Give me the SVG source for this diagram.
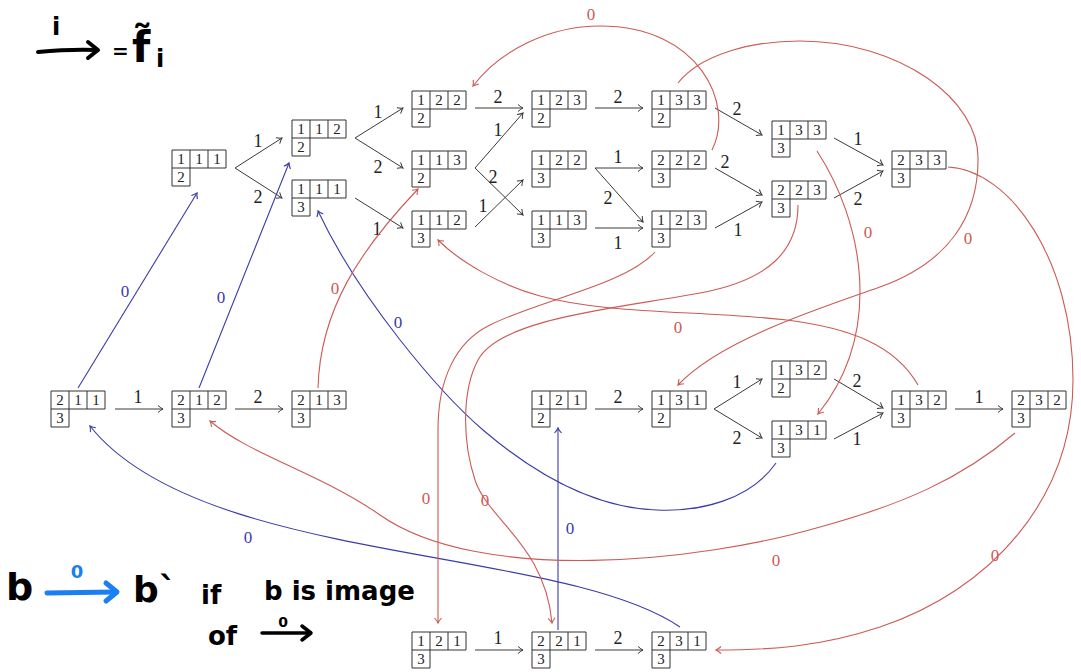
<svg xmlns="http://www.w3.org/2000/svg" xmlns:xlink="http://www.w3.org/1999/xlink" width="1081" height="672" viewBox="0 0 1081 672">
<style>
.t text{font-family:"Liberation Serif","DejaVu Serif",serif;font-size:15px;text-anchor:middle;fill:#222}
.e{fill:none;stroke:#3a3a3a;stroke-width:1}
.r{fill:none;stroke:#cc5a55;stroke-width:1.1}
.bl{fill:none;stroke:#3b3ba8;stroke-width:1.1}
.lb{font-family:"Liberation Serif","DejaVu Serif",serif;font-size:18px;text-anchor:middle;fill:#222}
.lr{font-family:"Liberation Serif","DejaVu Serif",serif;font-size:17px;text-anchor:middle;fill:#cc5a55}
.lbl{font-family:"Liberation Serif","DejaVu Serif",serif;font-size:17px;text-anchor:middle;fill:#3b3ba8}
.hw{font-family:"DejaVu Sans",sans-serif;font-weight:bold;fill:#000}
</style>
<defs>
<marker id="ak" viewBox="-6 -5 8 10" markerWidth="8" markerHeight="10" refX="0" refY="0" orient="auto" markerUnits="userSpaceOnUse"><path d="M-5,-3.5 Q-2,-0.8 0,0 Q-2,0.8 -5,3.5" fill="none" stroke="#3a3a3a" stroke-width="1"/></marker>
<marker id="ar" viewBox="-6 -5 8 10" markerWidth="8" markerHeight="10" refX="0" refY="0" orient="auto" markerUnits="userSpaceOnUse"><path d="M-5,-3.5 Q-2,-0.8 0,0 Q-2,0.8 -5,3.5" fill="none" stroke="#cc5a55" stroke-width="1.1"/></marker>
<marker id="ab" viewBox="-6 -5 8 10" markerWidth="8" markerHeight="10" refX="0" refY="0" orient="auto" markerUnits="userSpaceOnUse"><path d="M-5,-3.5 Q-2,-0.8 0,0 Q-2,0.8 -5,3.5" fill="none" stroke="#3b3ba8" stroke-width="1.1"/></marker>
<path id="sh" d="M0,0 H54 V18 H0 Z M18,0 V36 H0 V18 M36,0 V18" fill="none" stroke="#333" stroke-width="1"/>
</defs>
<rect width="1081" height="672" fill="#fff"/>

<g id="handwriting">
<text class="hw" x="52" y="35" font-size="24">i</text>
<path d="M38,52 Q70,49 97,50" fill="none" stroke="#000" stroke-width="4" stroke-linecap="round"/>
<path d="M88,42 L98,50 L88,58" fill="none" stroke="#000" stroke-width="4" stroke-linecap="round" stroke-linejoin="round"/>
<text class="hw" x="112" y="58" font-size="20">=</text>
<text class="hw" x="132" y="62" font-size="42">f̃</text>
<text class="hw" x="156" y="67" font-size="24">i</text>
<text class="hw" x="6" y="600" font-size="38">b</text>
<path d="M47,593 L116,592" fill="none" stroke="#1a7ff0" stroke-width="5" stroke-linecap="round"/>
<path d="M106,583 L117,592 L106,601" fill="none" stroke="#1a7ff0" stroke-width="5" stroke-linecap="round" stroke-linejoin="round"/>
<text class="hw" x="77" y="578" font-size="18" style="fill:#1a7ff0" text-anchor="middle">0</text>
<text class="hw" x="133" y="602" font-size="36">b`</text>
<text class="hw" x="201" y="604" font-size="26">if</text>
<text class="hw" x="264" y="600" font-size="26">b is image</text>
<text class="hw" x="208" y="645" font-size="26">of</text>
<path d="M262,633 L310,633" fill="none" stroke="#000" stroke-width="3.5" stroke-linecap="round"/>
<path d="M302,626 L311,633 L302,640" fill="none" stroke="#000" stroke-width="3.5" stroke-linecap="round" stroke-linejoin="round"/>
<text class="hw" x="283" y="627" font-size="14" text-anchor="middle">0</text>
</g>

<g id="connectors">
<g id="black-edges">
<path class="e" marker-end="url(#ak)" d="M235,168 L282,138"/>
<path class="e" marker-end="url(#ak)" d="M235,168 L282,198"/>
<path class="e" marker-end="url(#ak)" d="M355,138 L403,108"/>
<path class="e" marker-end="url(#ak)" d="M355,138 L403,168"/>
<path class="e" marker-end="url(#ak)" d="M355,198 L403,228"/>
<path class="e" marker-end="url(#ak)" d="M475,108 L523,108"/>
<path class="e" marker-end="url(#ak)" d="M475,168 L523,113"/>
<path class="e" marker-end="url(#ak)" d="M475,168 L523,215"/>
<path class="e" marker-end="url(#ak)" d="M475,227 L523,180"/>
<path class="e" marker-end="url(#ak)" d="M595,108 L643,108"/>
<path class="e" marker-end="url(#ak)" d="M595,168 L643,168"/>
<path class="e" marker-end="url(#ak)" d="M595,168 L643,222"/>
<path class="e" marker-end="url(#ak)" d="M595,228 L643,228"/>
<path class="e" marker-end="url(#ak)" d="M715,108 L762,135"/>
<path class="e" marker-end="url(#ak)" d="M715,168 L762,195"/>
<path class="e" marker-end="url(#ak)" d="M715,228 L762,202"/>
<path class="e" marker-end="url(#ak)" d="M834,138 L883,165"/>
<path class="e" marker-end="url(#ak)" d="M834,198 L883,171"/>
<path class="e" marker-end="url(#ak)" d="M115,409 L163,409"/>
<path class="e" marker-end="url(#ak)" d="M235,409 L283,409"/>
<path class="e" marker-end="url(#ak)" d="M595,409 L643,409"/>
<path class="e" marker-end="url(#ak)" d="M714,409 L762,379"/>
<path class="e" marker-end="url(#ak)" d="M714,409 L762,438"/>
<path class="e" marker-end="url(#ak)" d="M834,379 L883,408"/>
<path class="e" marker-end="url(#ak)" d="M834,439 L883,413"/>
<path class="e" marker-end="url(#ak)" d="M955,409 L1003,409"/>
<path class="e" marker-end="url(#ak)" d="M475,650 L523,650"/>
<path class="e" marker-end="url(#ak)" d="M595,650 L643,650"/>
</g>
<g id="black-labels">
<text class="lb" x="258" y="147">1</text>
<text class="lb" x="258" y="203">2</text>
<text class="lb" x="378" y="118">1</text>
<text class="lb" x="378" y="173">2</text>
<text class="lb" x="377" y="235">1</text>
<text class="lb" x="498" y="103">2</text>
<text class="lb" x="493" y="183">2</text>
<text class="lb" x="498" y="136">1</text>
<text class="lb" x="483" y="212">1</text>
<text class="lb" x="618" y="103">2</text>
<text class="lb" x="618" y="163">1</text>
<text class="lb" x="608" y="204">2</text>
<text class="lb" x="618" y="249">1</text>
<text class="lb" x="737" y="115">2</text>
<text class="lb" x="725" y="168">2</text>
<text class="lb" x="738" y="236">1</text>
<text class="lb" x="858" y="145">1</text>
<text class="lb" x="858" y="205">2</text>
<text class="lb" x="138" y="403">1</text>
<text class="lb" x="258" y="403">2</text>
<text class="lb" x="618" y="403">2</text>
<text class="lb" x="737" y="388">1</text>
<text class="lb" x="737" y="444">2</text>
<text class="lb" x="857" y="387">2</text>
<text class="lb" x="857" y="445">1</text>
<text class="lb" x="979" y="403">1</text>
<text class="lb" x="498" y="644">1</text>
<text class="lb" x="618" y="644">2</text>
</g>
<g id="blue-edges">
<path class="bl" marker-end="url(#ab)" d="M78,388 L197,193"/>
<path class="bl" marker-end="url(#ab)" d="M199,388 L289,163"/>
<path class="bl" marker-end="url(#ab)" d="M776,463 C750,500 700,512 657,510 C590,508 530,470 483,430 C440,393 360,300 318,211"/>
<path class="bl" marker-end="url(#ab)" d="M680,627 C560,545 200,565 90,426"/>
<path class="bl" marker-end="url(#ab)" d="M558,630 L558,428"/>
<text class="lbl" x="125" y="297">0</text>
<text class="lbl" x="221" y="303">0</text>
<text class="lbl" x="398" y="328">0</text>
<text class="lbl" x="248" y="543">0</text>
<text class="lbl" x="570" y="534">0</text>
</g>
<g id="red-edges">
<path class="r" marker-end="url(#ar)" d="M712,150 C735,105 700,26 600,26 C550,26 500,50 473,86"/>
<path class="r" marker-end="url(#ar)" d="M678,83 C700,55 750,41 800,41 C900,41 980,100 978,160 C978,215 950,262 880,287 C820,308 720,340 678,385"/>
<path class="r" marker-end="url(#ar)" d="M817,151 C862,220 885,330 818,414"/>
<path class="r" marker-end="url(#ar)" d="M948,167 C1010,170 1073,260 1073,380 C1073,500 990,590 880,627 C820,647 770,650 716,650"/>
<path class="r" marker-end="url(#ar)" d="M918,385 C895,345 850,328 787,320 C700,310 610,315 540,296 C500,285 460,262 438,240"/>
<path class="r" marker-end="url(#ar)" d="M798,205 C798,250 770,280 700,293 C620,308 500,318 478,360 C462,390 462,440 475,480 C488,520 545,545 552,623"/>
<path class="r" marker-end="url(#ar)" d="M655,252 C625,285 540,300 490,325 C455,342 438,380 438,430 L438,623"/>
<path class="r" marker-end="url(#ar)" d="M318,388 C320,310 360,250 418,189"/>
<path class="r" marker-end="url(#ar)" d="M1015,433 C960,480 900,505 820,527 C700,562 480,585 380,515 C320,473 250,455 210,421"/>
<text class="lr" x="591" y="20">0</text>
<text class="lr" x="968" y="244">0</text>
<text class="lr" x="868" y="238">0</text>
<text class="lr" x="995" y="561">0</text>
<text class="lr" x="678" y="333">0</text>
<text class="lr" x="485" y="506">0</text>
<text class="lr" x="426" y="504">0</text>
<text class="lr" x="335" y="294">0</text>
<text class="lr" x="776" y="566">0</text>
</g>
</g>

<g class="t">
<g id="n111-2" transform="translate(172,150)"><use href="#sh"/><text x="9" y="14">1</text><text x="27" y="14">1</text><text x="45" y="14">1</text><text x="9" y="32">2</text></g>
<g id="n112-2" transform="translate(292,120)"><use href="#sh"/><text x="9" y="14">1</text><text x="27" y="14">1</text><text x="45" y="14">2</text><text x="9" y="32">2</text></g>
<g id="n111-3" transform="translate(292,180)"><use href="#sh"/><text x="9" y="14">1</text><text x="27" y="14">1</text><text x="45" y="14">1</text><text x="9" y="32">3</text></g>
<g id="n122-2" transform="translate(412,91)"><use href="#sh"/><text x="9" y="14">1</text><text x="27" y="14">2</text><text x="45" y="14">2</text><text x="9" y="32">2</text></g>
<g id="n113-2" transform="translate(412,151)"><use href="#sh"/><text x="9" y="14">1</text><text x="27" y="14">1</text><text x="45" y="14">3</text><text x="9" y="32">2</text></g>
<g id="n112-3" transform="translate(412,211)"><use href="#sh"/><text x="9" y="14">1</text><text x="27" y="14">1</text><text x="45" y="14">2</text><text x="9" y="32">3</text></g>
<g id="n123-2" transform="translate(532,91)"><use href="#sh"/><text x="9" y="14">1</text><text x="27" y="14">2</text><text x="45" y="14">3</text><text x="9" y="32">2</text></g>
<g id="n122-3" transform="translate(532,151)"><use href="#sh"/><text x="9" y="14">1</text><text x="27" y="14">2</text><text x="45" y="14">2</text><text x="9" y="32">3</text></g>
<g id="n113-3" transform="translate(532,211)"><use href="#sh"/><text x="9" y="14">1</text><text x="27" y="14">1</text><text x="45" y="14">3</text><text x="9" y="32">3</text></g>
<g id="n133-2" transform="translate(652,91)"><use href="#sh"/><text x="9" y="14">1</text><text x="27" y="14">3</text><text x="45" y="14">3</text><text x="9" y="32">2</text></g>
<g id="n222-3" transform="translate(652,151)"><use href="#sh"/><text x="9" y="14">2</text><text x="27" y="14">2</text><text x="45" y="14">2</text><text x="9" y="32">3</text></g>
<g id="n123-3" transform="translate(652,211)"><use href="#sh"/><text x="9" y="14">1</text><text x="27" y="14">2</text><text x="45" y="14">3</text><text x="9" y="32">3</text></g>
<g id="n133-3" transform="translate(772,121)"><use href="#sh"/><text x="9" y="14">1</text><text x="27" y="14">3</text><text x="45" y="14">3</text><text x="9" y="32">3</text></g>
<g id="n223-3" transform="translate(772,181)"><use href="#sh"/><text x="9" y="14">2</text><text x="27" y="14">2</text><text x="45" y="14">3</text><text x="9" y="32">3</text></g>
<g id="n233-3" transform="translate(892,151)"><use href="#sh"/><text x="9" y="14">2</text><text x="27" y="14">3</text><text x="45" y="14">3</text><text x="9" y="32">3</text></g>
<g id="n211-3" transform="translate(51,391)"><use href="#sh"/><text x="9" y="14">2</text><text x="27" y="14">1</text><text x="45" y="14">1</text><text x="9" y="32">3</text></g>
<g id="n212-3" transform="translate(172,391)"><use href="#sh"/><text x="9" y="14">2</text><text x="27" y="14">1</text><text x="45" y="14">2</text><text x="9" y="32">3</text></g>
<g id="n213-3" transform="translate(292,391)"><use href="#sh"/><text x="9" y="14">2</text><text x="27" y="14">1</text><text x="45" y="14">3</text><text x="9" y="32">3</text></g>
<g id="n121-2" transform="translate(532,391)"><use href="#sh"/><text x="9" y="14">1</text><text x="27" y="14">2</text><text x="45" y="14">1</text><text x="9" y="32">2</text></g>
<g id="n131-2" transform="translate(652,391)"><use href="#sh"/><text x="9" y="14">1</text><text x="27" y="14">3</text><text x="45" y="14">1</text><text x="9" y="32">2</text></g>
<g id="n132-2" transform="translate(772,361)"><use href="#sh"/><text x="9" y="14">1</text><text x="27" y="14">3</text><text x="45" y="14">2</text><text x="9" y="32">2</text></g>
<g id="n131-3" transform="translate(772,421)"><use href="#sh"/><text x="9" y="14">1</text><text x="27" y="14">3</text><text x="45" y="14">1</text><text x="9" y="32">3</text></g>
<g id="n132-3" transform="translate(892,391)"><use href="#sh"/><text x="9" y="14">1</text><text x="27" y="14">3</text><text x="45" y="14">2</text><text x="9" y="32">3</text></g>
<g id="n232-3" transform="translate(1012,391)"><use href="#sh"/><text x="9" y="14">2</text><text x="27" y="14">3</text><text x="45" y="14">2</text><text x="9" y="32">3</text></g>
<g id="n121-3" transform="translate(412,632)"><use href="#sh"/><text x="9" y="14">1</text><text x="27" y="14">2</text><text x="45" y="14">1</text><text x="9" y="32">3</text></g>
<g id="n221-3" transform="translate(532,632)"><use href="#sh"/><text x="9" y="14">2</text><text x="27" y="14">2</text><text x="45" y="14">1</text><text x="9" y="32">3</text></g>
<g id="n231-3" transform="translate(652,632)"><use href="#sh"/><text x="9" y="14">2</text><text x="27" y="14">3</text><text x="45" y="14">1</text><text x="9" y="32">3</text></g>
</g>
</svg>
